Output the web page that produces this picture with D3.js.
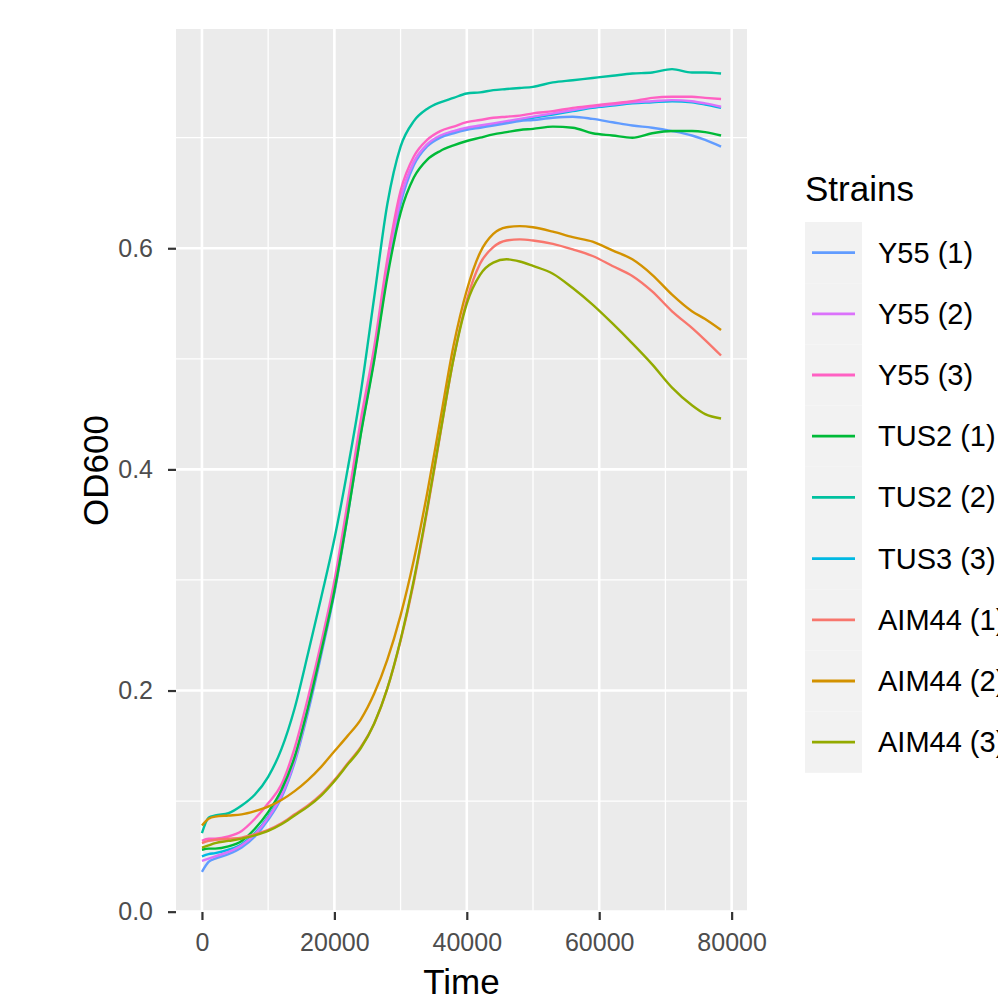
<!DOCTYPE html>
<html>
<head>
<meta charset="utf-8">
<script src="https://cdnjs.cloudflare.com/ajax/libs/d3/7.8.5/d3.min.js"></script>
<style>
  body { margin: 0; background: #fff; }
  svg { display: block; font-family: "Liberation Sans", Arial, sans-serif; }
</style>
</head>
<body>
<svg id="chart" width="998" height="995"></svg>
<script>
// sampling times (s)
const time = [0, 1000, 2000, 4000, 6000, 8000, 10000, 12000, 14000, 16000, 18000, 20000,
  22000, 24000, 26000, 28000, 30000, 32000, 34000, 36000, 38000, 40000, 42000, 44000,
  46000, 48000, 50000, 53000, 56000, 59000, 62000, 65000, 68000, 71000, 74000, 76000, 78400]

const strains = ['Y55 (1)', 'Y55 (2)', 'Y55 (3)', 'TUS2 (1)', 'TUS2 (2)', 'TUS3 (3)', 'AIM44 (1)', 'AIM44 (2)', 'AIM44 (3)']
const colors = ['#619CFF', '#DB72FB', '#FF61C3', '#00BA38', '#00C19F', '#00B9E3', '#F8766D', '#D39200', '#93AA00']

// OD600 per strain, one value per time point
const y55_1 = [0.036, 0.045, 0.048, 0.052, 0.058, 0.068, 0.083, 0.103, 0.135, 0.180, 0.232, 0.288,
  0.358, 0.433, 0.500, 0.578, 0.640, 0.675, 0.692, 0.700, 0.704, 0.707, 0.709, 0.711,
  0.713, 0.715, 0.716, 0.718, 0.719, 0.717, 0.714, 0.711, 0.709, 0.706, 0.702, 0.698, 0.692]
const y55_2 = [0.046, 0.048, 0.050, 0.054, 0.060, 0.070, 0.085, 0.105, 0.137, 0.183, 0.235, 0.292,
  0.362, 0.437, 0.503, 0.582, 0.645, 0.678, 0.694, 0.702, 0.706, 0.709, 0.711, 0.713,
  0.715, 0.717, 0.719, 0.722, 0.725, 0.728, 0.730, 0.732, 0.733, 0.734, 0.733, 0.731, 0.728]
const y55_3 = [0.064, 0.066, 0.066, 0.068, 0.073, 0.084, 0.098, 0.115, 0.148, 0.193, 0.243, 0.299,
  0.370, 0.445, 0.510, 0.590, 0.652, 0.683, 0.698, 0.706, 0.710, 0.714, 0.716, 0.718,
  0.719, 0.720, 0.722, 0.724, 0.727, 0.729, 0.731, 0.733, 0.736, 0.737, 0.737, 0.736, 0.735]
const tus2_1 = [0.056, 0.057, 0.057, 0.059, 0.064, 0.075, 0.090, 0.110, 0.140, 0.184, 0.235, 0.290,
  0.358, 0.432, 0.498, 0.574, 0.632, 0.664, 0.680, 0.688, 0.693, 0.697, 0.700, 0.703,
  0.705, 0.707, 0.708, 0.710, 0.709, 0.704, 0.702, 0.700, 0.704, 0.706, 0.706, 0.705, 0.702]
const tus2_2 = [0.071, 0.085, 0.087, 0.089, 0.096, 0.106, 0.122, 0.147, 0.184, 0.233, 0.284, 0.337,
  0.400, 0.470, 0.555, 0.640, 0.692, 0.715, 0.726, 0.732, 0.736, 0.740, 0.741, 0.743,
  0.744, 0.745, 0.746, 0.750, 0.752, 0.754, 0.756, 0.758, 0.759, 0.762, 0.759, 0.759, 0.758]
const tus3_3 = [0.050, 0.052, 0.053, 0.056, 0.061, 0.071, 0.086, 0.106, 0.138, 0.183, 0.235, 0.292,
  0.361, 0.436, 0.502, 0.580, 0.643, 0.677, 0.693, 0.701, 0.705, 0.708, 0.710, 0.712,
  0.714, 0.716, 0.718, 0.721, 0.724, 0.727, 0.729, 0.731, 0.732, 0.733, 0.732, 0.730, 0.727]
const aim44_1 = [0.062, 0.064, 0.065, 0.066, 0.067, 0.070, 0.074, 0.080, 0.088, 0.096, 0.106, 0.119,
  0.134, 0.149, 0.170, 0.202, 0.245, 0.298, 0.362, 0.432, 0.500, 0.553, 0.586, 0.601,
  0.607, 0.608, 0.607, 0.604, 0.599, 0.593, 0.584, 0.575, 0.561, 0.543, 0.528, 0.517, 0.503]
const aim44_2 = [0.078, 0.084, 0.086, 0.087, 0.088, 0.091, 0.095, 0.101, 0.109, 0.119, 0.131, 0.145,
  0.159, 0.174, 0.197, 0.228, 0.268, 0.318, 0.378, 0.445, 0.512, 0.562, 0.596, 0.613,
  0.619, 0.620, 0.619, 0.615, 0.610, 0.606, 0.598, 0.590, 0.576, 0.558, 0.543, 0.536, 0.526]
const aim44_3 = [0.058, 0.060, 0.062, 0.064, 0.066, 0.069, 0.073, 0.079, 0.087, 0.095, 0.105, 0.118,
  0.133, 0.148, 0.170, 0.202, 0.246, 0.300, 0.364, 0.433, 0.500, 0.550, 0.576, 0.587,
  0.590, 0.588, 0.584, 0.577, 0.564, 0.549, 0.532, 0.514, 0.495, 0.474, 0.458, 0.450, 0.446]

const seriesValues = [y55_1, y55_2, y55_3, tus2_1, tus2_2, tus3_3, aim44_1, aim44_2, aim44_3]
const xMajor = [0, 20000, 40000, 60000, 80000]
const xMinor = [10000, 30000, 50000, 70000]
const yMajor = [0, 0.2, 0.4, 0.6]
const yMinor = [0.1, 0.3, 0.5, 0.7]

let panel = { left: 176, right: 747, top: 29, bottom: 912 }

let series = strains.map((s, i) => ({
  name: s,
  color: colors[i],
  values: time.map((t, j) => ({ t: t, v: seriesValues[i][j] }))
}))

// ggplot style 5% expansion
let xExt = d3.extent(time)
let yExt = d3.extent(seriesValues.flat())
let xPad = (xExt[1] - xExt[0]) * 0.05
let yPad = (yExt[1] - yExt[0]) * 0.05

let xscale = d3.scaleLinear().domain([xExt[0] - xPad, xExt[1] + xPad]).range([panel.left, panel.right])
let yscale = d3.scaleLinear().domain([yExt[0] - yPad, yExt[1] + yPad]).range([panel.bottom, panel.top])

let svg = d3.select('#chart')

svg.append('rect')
  .attr('x', panel.left).attr('y', panel.top)
  .attr('width', panel.right - panel.left).attr('height', panel.bottom - panel.top)
  .style('fill', '#EBEBEB')

let grid = svg.append('g')
grid.selectAll('.yminor').data(yMinor).enter().append('line')
  .attr('x1', panel.left).attr('x2', panel.right)
  .attr('y1', d => yscale(d)).attr('y2', d => yscale(d))
  .style('stroke', '#fff').style('stroke-width', 1.3)
grid.selectAll('.xminor').data(xMinor).enter().append('line')
  .attr('y1', panel.top).attr('y2', panel.bottom)
  .attr('x1', d => xscale(d)).attr('x2', d => xscale(d))
  .style('stroke', '#fff').style('stroke-width', 1.3)
grid.selectAll('.ymajor').data(yMajor).enter().append('line')
  .attr('x1', panel.left).attr('x2', panel.right)
  .attr('y1', d => yscale(d)).attr('y2', d => yscale(d))
  .style('stroke', '#fff').style('stroke-width', 2.6)
grid.selectAll('.xmajor').data(xMajor).enter().append('line')
  .attr('y1', panel.top).attr('y2', panel.bottom)
  .attr('x1', d => xscale(d)).attr('x2', d => xscale(d))
  .style('stroke', '#fff').style('stroke-width', 2.6)

let line = d3.line()
  .x(d => xscale(d.t))
  .y(d => yscale(d.v))
  .curve(d3.curveMonotoneX)

// TUS3 (3) sits underneath the Y55 bundle
let drawOrder = [5, 0, 1, 2, 3, 4, 6, 7, 8]
svg.append('g').selectAll('path')
  .data(drawOrder.map(i => series[i]))
  .enter().append('path')
  .attr('d', d => line(d.values))
  .style('fill', 'none')
  .style('stroke', d => d.color)
  .style('stroke-width', 2.4)

// axes
svg.append('g')
  .attr('transform', `translate(0,${panel.bottom})`)
  .call(d3.axisBottom(xscale).tickValues(xMajor).tickFormat(d3.format('d')).tickSizeInner(8).tickSizeOuter(0).tickPadding(13))
svg.append('g')
  .attr('transform', `translate(${panel.left},0)`)
  .call(d3.axisLeft(yscale).tickValues(yMajor).tickFormat(d3.format('.1f')).tickSizeInner(8).tickSizeOuter(0).tickPadding(15))

svg.selectAll('.domain').remove()
svg.selectAll('.tick line').style('stroke', '#333').style('stroke-width', 2.2)
svg.selectAll('.tick text').style('fill', '#4D4D4D').style('font-size', '25px').style('font-family', '"Liberation Sans", Arial, sans-serif')

svg.append('text')
  .attr('x', (panel.left + panel.right) / 2).attr('y', 994)
  .attr('text-anchor', 'middle')
  .style('font-size', '35px').style('fill', '#000')
  .text('Time')

svg.append('text')
  .attr('transform', `translate(108,${(panel.top + panel.bottom) / 2}) rotate(-90)`)
  .attr('text-anchor', 'middle')
  .style('font-size', '35px').style('fill', '#000')
  .text('OD600')

// legend
let legend = svg.append('g').attr('transform', 'translate(805,222)')
let keyH = 61.2
legend.append('text')
  .attr('x', 0).attr('y', -21)
  .style('font-size', '35px').style('fill', '#000')
  .text('Strains')

let keys = legend.selectAll('.key').data(series).enter().append('g')
  .attr('transform', (d, i) => `translate(0,${i * keyH})`)
keys.append('rect')
  .attr('width', 57).attr('height', keyH)
  .style('fill', '#F2F2F2')
keys.append('line')
  .attr('x1', 7).attr('x2', 50)
  .attr('y1', keyH / 2).attr('y2', keyH / 2)
  .style('stroke', d => d.color).style('stroke-width', 2.8)
keys.append('text')
  .attr('x', 73).attr('y', keyH / 2 + 10)
  .style('font-size', '29px').style('fill', '#000')
  .text(d => d.name)
</script>
</body>
</html>
